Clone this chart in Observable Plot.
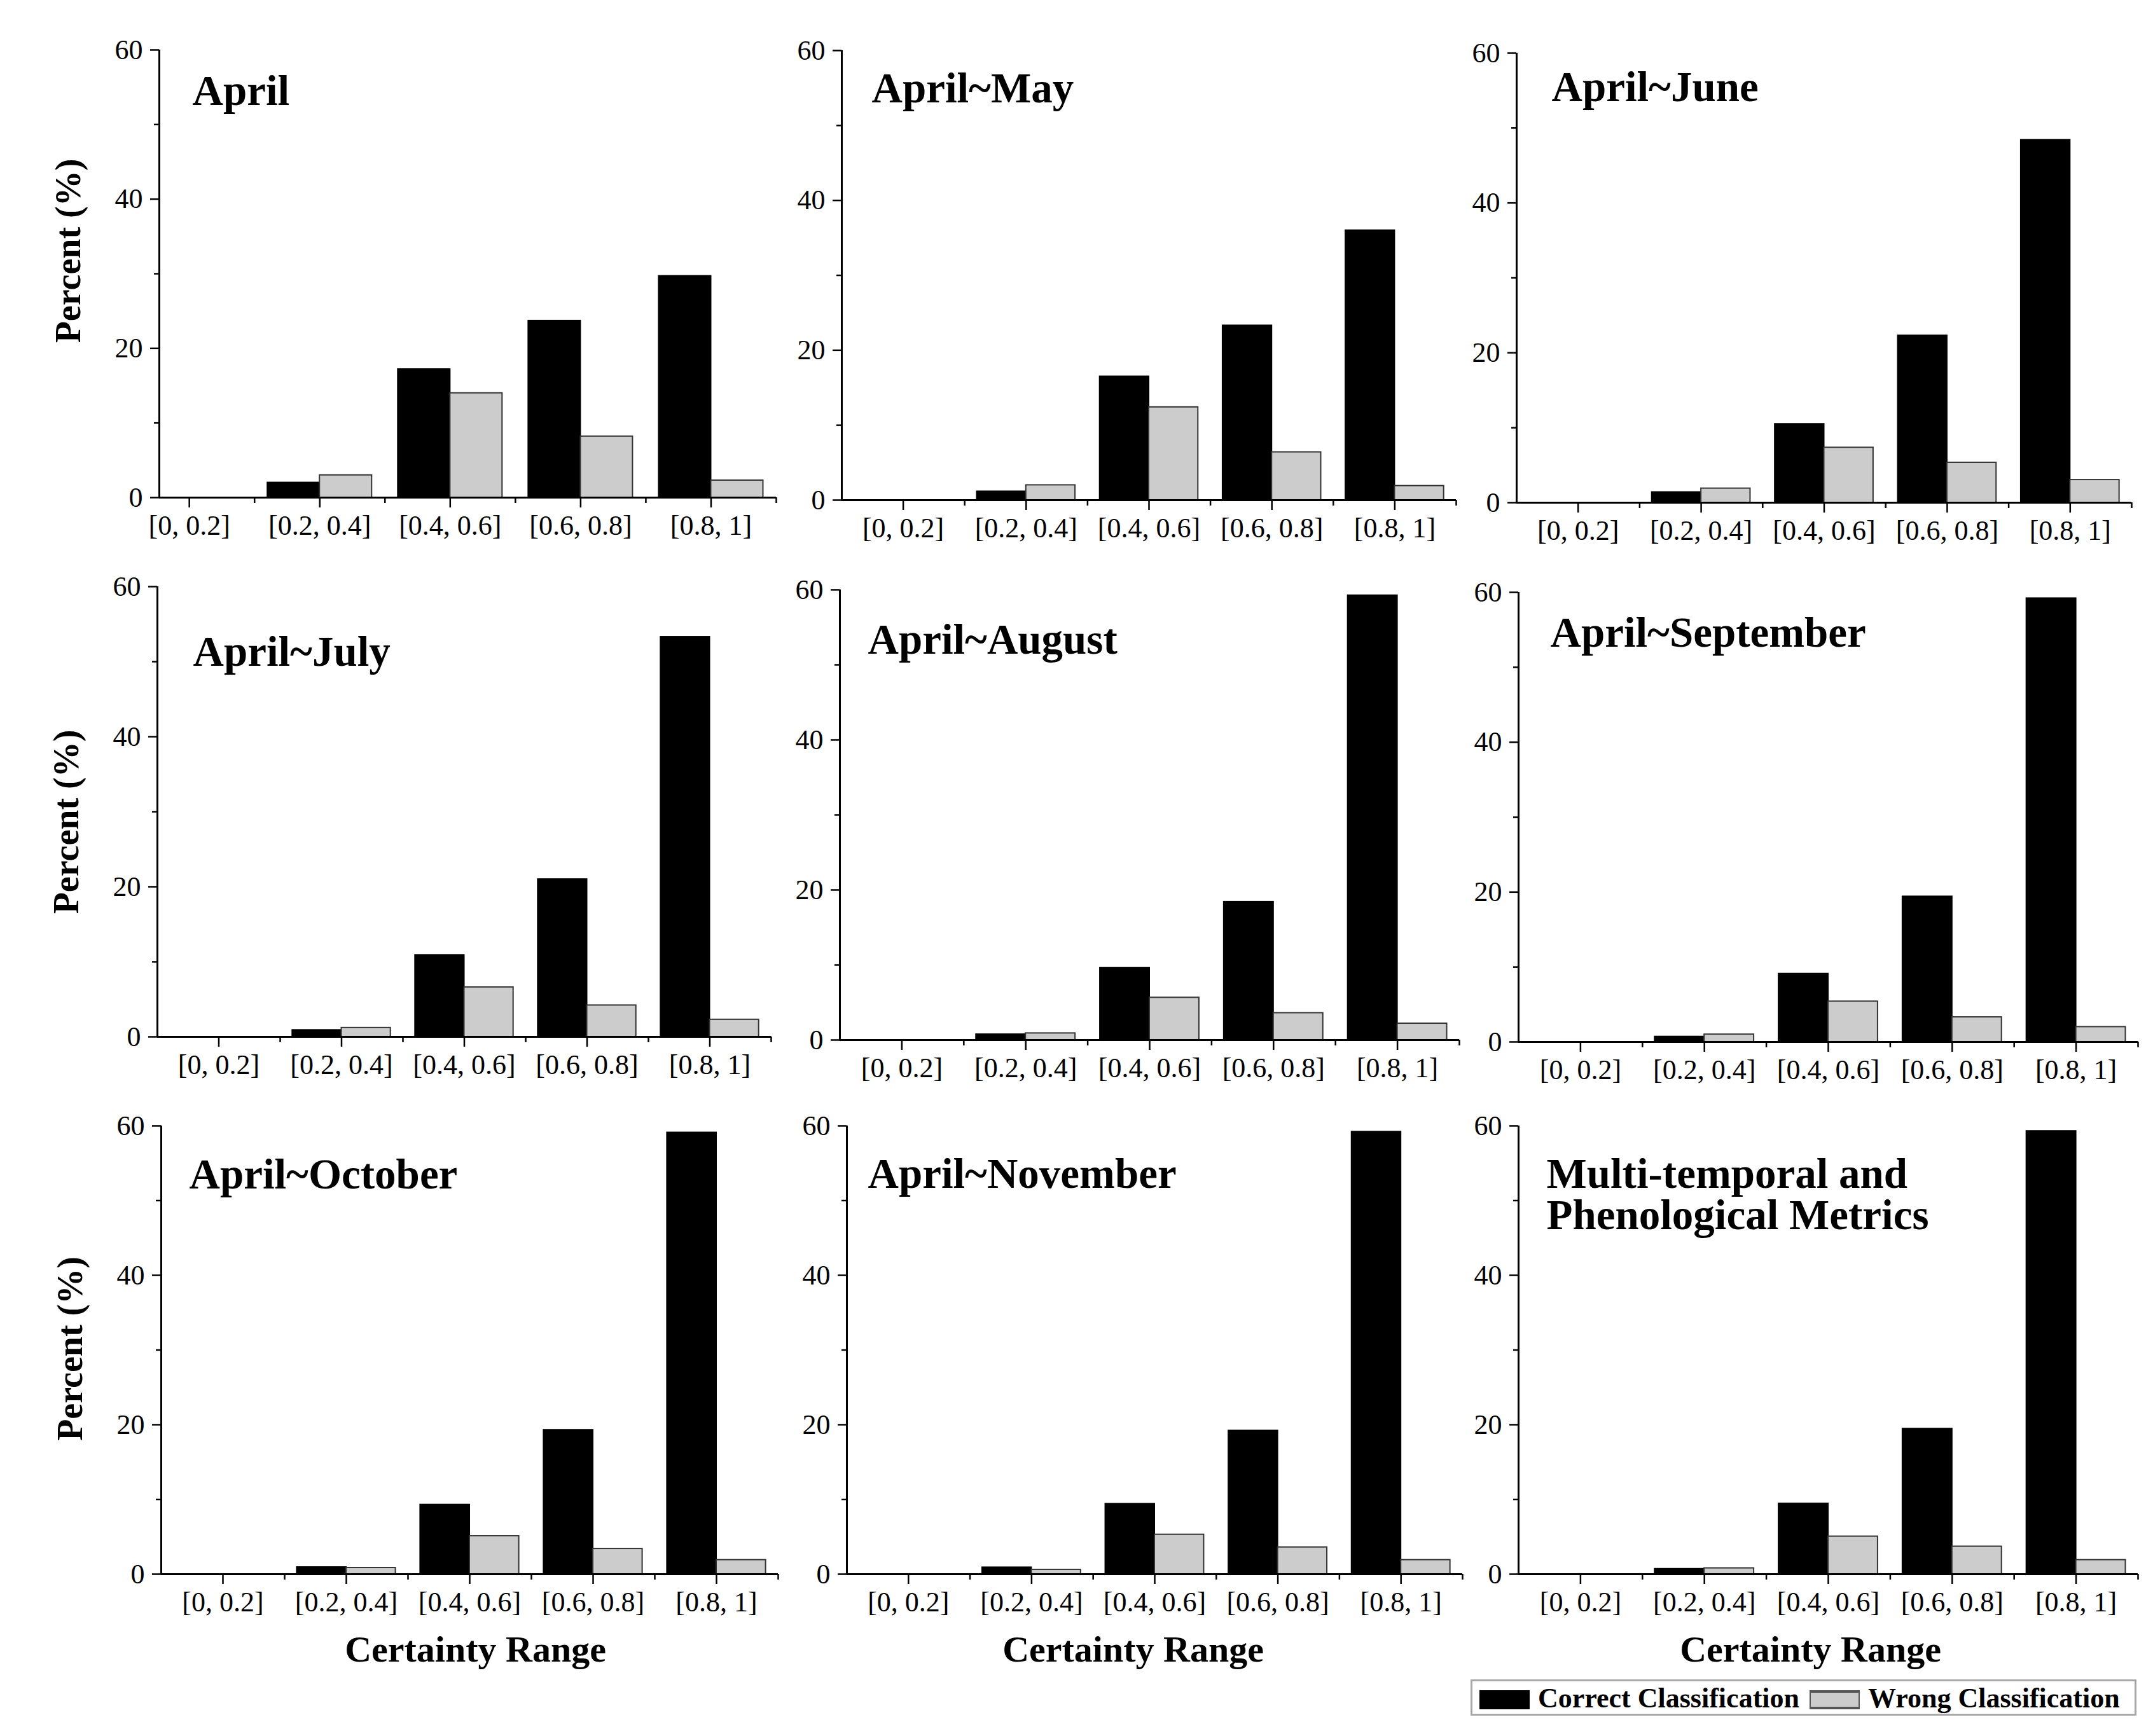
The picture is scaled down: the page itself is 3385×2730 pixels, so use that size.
<!DOCTYPE html>
<html>
<head>
<meta charset="utf-8">
<script src="https://cdn.jsdelivr.net/npm/d3@7"></script>
<script src="https://cdn.jsdelivr.net/npm/@observablehq/plot@0.6"></script>
<style>
html, body { margin: 0; padding: 0; background: #fff; }
#page { position: relative; width: 3385px; height: 2730px; background: #fff; overflow: hidden;
  font-family: "Liberation Serif", "Times New Roman", serif; }
#page svg { position: absolute; overflow: visible; }
.legend { position: absolute; left: 2312px; top: 2641px; width: 1041px; height: 51px;
  border: 3px solid #a8a8a8; background: #fff; }
.legend .sw { position: absolute; top: 14px; width: 79px; height: 30px; box-sizing: border-box; }
.legend .sw.black { left: 11px; background: #000; }
.legend .sw.gray { left: 530px; background: #cccccc; border-top: 4px solid #555; border-bottom: 4px solid #555; border-left: 2px solid #555; border-right: 2px solid #555; }
.legend .lt { position: absolute; top: 5px; font-size: 44px; line-height: 44px; font-weight: bold; white-space: nowrap; color: #000; }
</style>
</head>
<body>
<div id="page"></div>
<script>
// ---------------- data ----------------
const categories = ["[0, 0.2]", "[0.2, 0.4]", "[0.4, 0.6]", "[0.6, 0.8]", "[0.8, 1]"];
const seriesNames = ["Correct Classification", "Wrong Classification"];
const panelTitles = ["April", "April~May", "April~June", "April~July", "April~August",
  "April~September", "April~October", "April~November", "Multi-temporal and\nPhenological Metrics"];
const yMajorTicks = [0, 20, 40, 60];
const yMinorTicks = [10, 30, 50];
const yLabel = "Percent (%)";
const xLabel = "Certainty Range";

const correctApril     = [0, 2.0, 17.2, 23.7, 29.7];
const wrongApril       = [0, 3.0, 14.0, 8.2, 2.3];
const correctMay       = [0, 1.15, 16.5, 23.3, 36.0];
const wrongMay         = [0, 2.0, 12.4, 6.4, 1.9];
const correctJune      = [0, 1.4, 10.5, 22.3, 48.4];
const wrongJune        = [0, 1.9, 7.35, 5.35, 3.05];
const correctJuly      = [0, 0.9, 10.9, 21.0, 53.3];
const wrongJuly        = [0, 1.2, 6.6, 4.2, 2.3];
const correctAugust    = [0, 0.75, 9.6, 18.4, 59.25];
const wrongAugust      = [0, 0.9, 5.65, 3.6, 2.2];
const correctSeptember = [0, 0.7, 9.1, 19.4, 59.2];
const wrongSeptember   = [0, 1.0, 5.4, 3.3, 2.0];
const correctOctober   = [0, 0.93, 9.3, 19.3, 59.1];
const wrongOctober     = [0, 0.85, 5.1, 3.4, 1.9];
const correctNovember  = [0, 0.9, 9.4, 19.2, 59.2];
const wrongNovember    = [0, 0.6, 5.3, 3.6, 1.9];
const correctMulti     = [0, 0.7, 9.45, 19.45, 59.3];
const wrongMulti       = [0, 0.8, 5.05, 3.7, 1.9];

const correctSets = [correctApril, correctMay, correctJune, correctJuly, correctAugust,
  correctSeptember, correctOctober, correctNovember, correctMulti];
const wrongSets = [wrongApril, wrongMay, wrongJune, wrongJuly, wrongAugust,
  wrongSeptember, wrongOctober, wrongNovember, wrongMulti];

// ---------------- layout (page pixels of each plot frame) ----------------
const layout = [
  {left: 250,  right: 1220, top: 78,   bottom: 782,  xmin: -0.23, tdx: 52, tdy: 86,  ylab: true, ydy: -36},
  {left: 1323, right: 2289, top: 79,   bottom: 786,  xmin: -0.5,  tdx: 47, tdy: 81},
  {left: 2384, right: 3351, top: 83,   bottom: 790,  xmin: -0.5,  tdx: 55, tdy: 75},
  {left: 247,  right: 1212, top: 922,  bottom: 1630, xmin: -0.5,  tdx: 56, tdy: 124, ylab: true, ydy: 16},
  {left: 1320, right: 2294, top: 927,  bottom: 1635, xmin: -0.5,  tdx: 44, tdy: 100},
  {left: 2387, right: 3361, top: 931,  bottom: 1638, xmin: -0.5,  tdx: 50, tdy: 85},
  {left: 253,  right: 1223, top: 1770, bottom: 2475, xmin: -0.5,  tdx: 44, tdy: 98,  ylab: true, ydy: -2, xlab: true, xdx: 9},
  {left: 1331, right: 2299, top: 1770, bottom: 2475, xmin: -0.5,  tdx: 33, tdy: 97,  xlab: true, xdx: -34},
  {left: 2387, right: 3361, top: 1770, bottom: 2475, xmin: -0.5,  tdx: 44, tdy: 162, xlab: true, xdx: -28}
];

const page = document.getElementById("page");
const xmax = categories.length - 0.5;
const centers = d3.range(categories.length);
const boundaries = d3.range(categories.length).map(i => i + 0.5);

function drawPanel(k) {
  const L = layout[k];
  const w = L.right - L.left, h = L.bottom - L.top;
  const ML = 200, MR = 30, MT = 40, MB = 190;
  const rows = [];
  categories.forEach((c, i) => {
    rows.push({i, series: seriesNames[0], value: correctSets[k][i]});
    rows.push({i, series: seriesNames[1], value: wrongSets[k][i]});
  });
  const bars = rows.filter(d => d.value > 0);
  const marks = [
    Plot.rectY(bars, {
      x1: d => d.series === seriesNames[0] ? d.i - 0.4 : d.i,
      x2: d => d.series === seriesNames[0] ? d.i : d.i + 0.4,
      y1: 0, y2: "value",
      fill: "series",
      stroke: d => d.series === seriesNames[0] ? "#000" : "#333",
      strokeWidth: 2
    }),
    Plot.ruleY([0], {x1: L.xmin, x2: xmax, strokeWidth: 3}),
    Plot.ruleX([L.xmin], {y1: 0, y2: 60, strokeWidth: 3}),
    Plot.axisY(yMajorTicks, {anchor: "left", tickSize: 14, tickPadding: 12, fontSize: 44, strokeWidth: 2.5, label: null}),
    Plot.axisY(yMinorTicks, {anchor: "left", tickSize: 8, tickFormat: () => "", strokeWidth: 2.5, label: null}),
    Plot.axisX(centers, {anchor: "bottom", tickSize: 16, tickPadding: 11, fontSize: 44, strokeWidth: 2.5,
      tickFormat: i => categories[i], label: null}),
    Plot.axisX(boundaries, {anchor: "bottom", tickSize: 9, tickFormat: () => "", strokeWidth: 2.5, label: null}),
    Plot.text([panelTitles[k]], {frameAnchor: "top-left", dx: L.tdx, dy: L.tdy, text: d => d,
      fontSize: 67, fontWeight: "bold", textAnchor: "start", lineAnchor: "bottom", lineHeight: 0.97})
  ];
  if (L.ylab) {
    marks.push(Plot.text([yLabel], {frameAnchor: "left", rotate: -90, dx: -125, dy: L.ydy, text: d => d,
      fontSize: 56, fontWeight: "bold", textAnchor: "middle", lineAnchor: "bottom"}));
  }
  if (L.xlab) {
    marks.push(Plot.text([xLabel], {frameAnchor: "bottom", dx: L.xdx, dy: 137, text: d => d,
      fontSize: 58, fontWeight: "bold", textAnchor: "middle", lineAnchor: "bottom"}));
  }
  const svg = Plot.plot({
    width: ML + w + MR,
    height: MT + h + MB,
    marginLeft: ML, marginRight: MR, marginTop: MT, marginBottom: MB,
    x: {type: "linear", domain: [L.xmin, xmax], label: null},
    y: {domain: [0, 60], label: null},
    color: {domain: seriesNames, range: ["#000000", "#cccccc"]},
    style: {fontFamily: "'Liberation Serif', 'Times New Roman', serif", fontSize: "44px",
      background: "transparent", color: "#000", overflow: "visible"},
    marks
  });
  svg.style.left = (L.left - ML) + "px";
  svg.style.top = (L.top - MT) + "px";
  page.appendChild(svg);
}

layout.forEach((L, k) => drawPanel(k));

// legend
const legend = document.createElement("div");
legend.className = "legend";
legend.innerHTML =
  `<span class="sw black"></span><span class="lt" style="left:103px">${seriesNames[0]}</span>` +
  `<span class="sw gray"></span><span class="lt" style="left:622px">${seriesNames[1]}</span>`;
page.appendChild(legend);
</script>
</body>
</html>
